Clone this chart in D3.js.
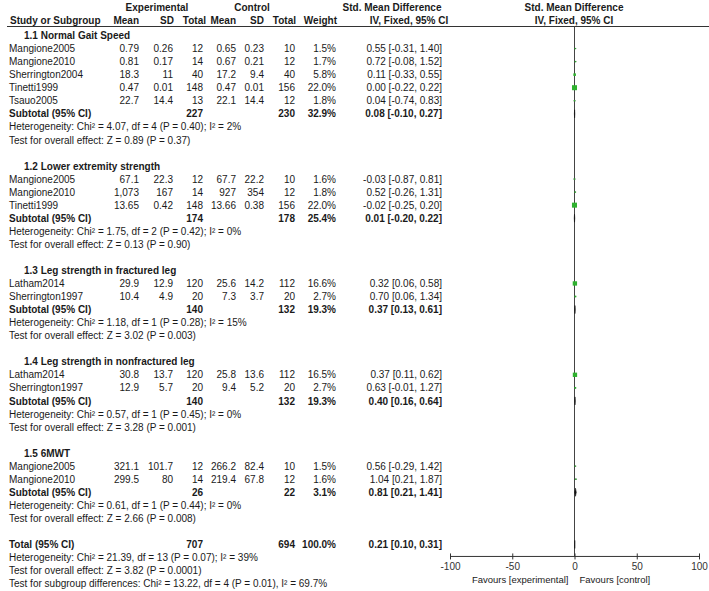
<!DOCTYPE html>
<html>
<head>
<meta charset="utf-8">
<script src="https://cdn.jsdelivr.net/npm/d3@7"></script>
<style>
    body { margin: 0; background: #fff; }
    svg { display: block; }
    text { font-family: "Liberation Sans", Arial, sans-serif; font-size: 10px; fill: #1a1a1a; }
    .bold { font-weight: bold; }
</style>
</head>
<body>
<svg></svg>
<script>
// data
var groupTitles = ["1.1 Normal Gait Speed", "1.2 Lower extremity strength", "1.3 Leg strength in fractured leg",
    "1.4 Leg strength in nonfractured leg", "1.5 6MWT"]
var studyGroup = [0, 0, 0, 0, 0, 1, 1, 1, 2, 2, 3, 3, 4, 4]
var studyNames = ["Mangione2005", "Mangione2010", "Sherrington2004", "Tinetti1999", "Tsauo2005",
    "Mangione2005", "Mangione2010", "Tinetti1999",
    "Latham2014", "Sherrington1997",
    "Latham2014", "Sherrington1997",
    "Mangione2005", "Mangione2010"]
var expMean = ["0.79", "0.81", "18.3", "0.47", "22.7", "67.1", "1,073", "13.65", "29.9", "10.4", "30.8", "12.9", "321.1", "299.5"]
var expSD = ["0.26", "0.17", "11", "0.01", "14.4", "22.3", "167", "0.42", "12.9", "4.9", "13.7", "5.7", "101.7", "80"]
var expTotal = [12, 14, 40, 148, 13, 12, 14, 148, 120, 20, 120, 20, 12, 14]
var ctlMean = ["0.65", "0.67", "17.2", "0.47", "22.1", "67.7", "927", "13.66", "25.6", "7.3", "25.8", "9.4", "266.2", "219.4"]
var ctlSD = ["0.23", "0.21", "9.4", "0.01", "14.4", "22.2", "354", "0.38", "14.2", "3.7", "13.6", "5.2", "82.4", "67.8"]
var ctlTotal = [10, 12, 40, 156, 12, 10, 12, 156, 112, 20, 112, 20, 10, 12]
var weights = [1.5, 1.7, 5.8, 22.0, 1.8, 1.6, 1.8, 22.0, 16.6, 2.7, 16.5, 2.7, 1.5, 1.6]
var smd = [0.55, 0.72, 0.11, 0.00, 0.04, -0.03, 0.52, -0.02, 0.32, 0.70, 0.37, 0.63, 0.56, 1.04]
var smdLow = [-0.31, -0.08, -0.33, -0.22, -0.74, -0.87, -0.26, -0.25, 0.06, 0.06, 0.11, -0.01, -0.29, 0.21]
var smdHigh = [1.40, 1.52, 0.55, 0.22, 0.83, 0.81, 1.31, 0.20, 0.58, 1.34, 0.62, 1.27, 1.42, 1.87]

var subExpTotal = [227, 174, 140, 140, 26]
var subCtlTotal = [230, 178, 132, 132, 22]
var subWeight = [32.9, 25.4, 19.3, 19.3, 3.1]
var subSmd = [0.08, 0.01, 0.37, 0.40, 0.81]
var subLow = [-0.10, -0.20, 0.13, 0.16, 0.21]
var subHigh = [0.27, 0.22, 0.61, 0.64, 1.41]
var heterogeneity = ["Heterogeneity: Chi\u00b2 = 4.07, df = 4 (P = 0.40); I\u00b2 = 2%",
    "Heterogeneity: Chi\u00b2 = 1.75, df = 2 (P = 0.42); I\u00b2 = 0%",
    "Heterogeneity: Chi\u00b2 = 1.18, df = 1 (P = 0.28); I\u00b2 = 15%",
    "Heterogeneity: Chi\u00b2 = 0.57, df = 1 (P = 0.45); I\u00b2 = 0%",
    "Heterogeneity: Chi\u00b2 = 0.61, df = 1 (P = 0.44); I\u00b2 = 0%"]
var overallTests = ["Test for overall effect: Z = 0.89 (P = 0.37)",
    "Test for overall effect: Z = 0.13 (P = 0.90)",
    "Test for overall effect: Z = 3.02 (P = 0.003)",
    "Test for overall effect: Z = 3.28 (P = 0.001)",
    "Test for overall effect: Z = 2.66 (P = 0.008)"]

var totalExp = 707
var totalCtl = 694
var totalWeight = 100.0
var totalSmd = [0.21, 0.10, 0.31]
var totalNotes = ["Heterogeneity: Chi\u00b2 = 21.39, df = 13 (P = 0.07); I\u00b2 = 39%",
    "Test for overall effect: Z = 3.82 (P = 0.0001)",
    "Test for subgroup differences: Chi\u00b2 = 13.22, df = 4 (P = 0.01), I\u00b2 = 69.7%"]
var axisTicks = [-100, -50, 0, 50, 100]

var screen = { width: 709, height: 591 }
var cols = { name: 9, group: 24, expMean: 139, expSD: 173, expTotal: 203, ctlMean: 236, ctlSD: 264, ctlTotal: 295, weight: 336, ci: 442 }
var rowTop = 35.5
var rowStep = 13.05

var svg = d3.select("svg")
    .attr("width", screen.width)
    .attr("height", screen.height)

var xScale = d3.scaleLinear()
    .domain([-100, 100])
    .range([450, 699])

var fmtCI = function (e, l, h) {
    return e.toFixed(2) + " [" + l.toFixed(2) + ", " + h.toFixed(2) + "]"
}

// build row list on a fixed grid, one blank row between blocks
var rows = []
var idx = 0
groupTitles.forEach(function (title, g) {
    rows.push({ kind: "group", idx: idx++, g: g })
    studyGroup.forEach(function (sg, i) {
        if (sg == g) { rows.push({ kind: "study", idx: idx++, i: i }) }
    })
    rows.push({ kind: "sub", idx: idx++, g: g })
    rows.push({ kind: "het", idx: idx++, g: g })
    rows.push({ kind: "test", idx: idx++, g: g })
    idx++
})
rows.push({ kind: "total", idx: idx++ })
totalNotes.forEach(function (t) {
    rows.push({ kind: "note", idx: idx++, text: t })
})
rows.forEach(function (r) {
    r.y = rowTop + r.idx * rowStep
})
var totalY = rows.filter(function (r) { return r.kind == "total" })[0].y

var addText = function (x, yy, txt, anchor, bold) {
    return svg.append("text")
        .attr("x", x)
        .attr("y", yy + 3.6)
        .attr("text-anchor", anchor || "start")
        .classed("bold", !!bold)
        .text(txt)
}

// headers
var h1 = 7, h2 = 20.5
addText(157, h1, "Experimental", "middle", true)
addText(252, h1, "Control", "middle", true)
addText(392, h1, "Std. Mean Difference", "middle", true)
addText(574, h1, "Std. Mean Difference", "middle", true)
addText(10, h2, "Study or Subgroup", "start", true)
addText(cols.expMean, h2, "Mean", "end", true)
addText(cols.expSD + 1, h2, "SD", "end", true)
addText(cols.expTotal + 3, h2, "Total", "end", true)
addText(cols.ctlMean, h2, "Mean", "end", true)
addText(cols.ctlSD, h2, "SD", "end", true)
addText(cols.ctlTotal + 1, h2, "Total", "end", true)
addText(cols.weight + 1, h2, "Weight", "end", true)
addText(409, h2, "IV, Fixed, 95% CI", "middle", true)
addText(574, h2, "IV, Fixed, 95% CI", "middle", true)

var ruleY = 26.5
svg.append("line")
    .attr("x1", 7).attr("x2", 709)
    .attr("y1", ruleY).attr("y2", ruleY)
    .attr("stroke", "#333").attr("stroke-width", 1.2)

var axisY = totalY + 12

// line of no effect
svg.append("line")
    .attr("x1", xScale(0)).attr("x2", xScale(0))
    .attr("y1", ruleY).attr("y2", axisY)
    .attr("stroke", "#444").attr("stroke-width", 1)

var plot = svg.append("g")

var drawDiamond = function (est, lo, hi, yy) {
    var pts = [[xScale(lo), yy], [xScale(est), yy - 4], [xScale(hi), yy], [xScale(est), yy + 4]]
    plot.append("path")
        .attr("d", d3.line()(pts) + "Z")
        .attr("fill", "#111")
        .attr("stroke", "#111")
        .attr("stroke-width", 0.6)
}

rows.forEach(function (r) {
    if (r.kind == "group") {
        addText(cols.group, r.y, groupTitles[r.g], "start", true)
    } else if (r.kind == "study") {
        var i = r.i
        addText(cols.name, r.y, studyNames[i])
        addText(cols.expMean, r.y, expMean[i], "end")
        addText(cols.expSD, r.y, expSD[i], "end")
        addText(cols.expTotal, r.y, expTotal[i], "end")
        addText(cols.ctlMean, r.y, ctlMean[i], "end")
        addText(cols.ctlSD, r.y, ctlSD[i], "end")
        addText(cols.ctlTotal, r.y, ctlTotal[i], "end")
        addText(cols.weight, r.y, weights[i].toFixed(1) + "%", "end")
        addText(cols.ci, r.y, fmtCI(smd[i], smdLow[i], smdHigh[i]), "end")

        plot.append("line")
            .attr("x1", xScale(smdLow[i])).attr("x2", xScale(smdHigh[i]))
            .attr("y1", r.y).attr("y2", r.y)
            .attr("stroke", "#333").attr("stroke-width", 0.8)
        var side = 1.07 * Math.sqrt(weights[i])
        plot.append("rect")
            .attr("x", xScale(smd[i]) - side / 2)
            .attr("y", r.y - side / 2)
            .attr("width", side)
            .attr("height", side)
            .attr("fill", "#2fb12f")
    } else if (r.kind == "sub") {
        var g = r.g
        addText(cols.name, r.y, "Subtotal (95% CI)", "start", true)
        addText(cols.expTotal, r.y, subExpTotal[g], "end", true)
        addText(cols.ctlTotal, r.y, subCtlTotal[g], "end", true)
        addText(cols.weight, r.y, subWeight[g].toFixed(1) + "%", "end", true)
        addText(cols.ci, r.y, fmtCI(subSmd[g], subLow[g], subHigh[g]), "end", true)
        drawDiamond(subSmd[g], subLow[g], subHigh[g], r.y)
    } else if (r.kind == "het") {
        addText(cols.name, r.y, heterogeneity[r.g])
    } else if (r.kind == "test") {
        addText(cols.name, r.y, overallTests[r.g])
    } else if (r.kind == "total") {
        addText(cols.name, r.y, "Total (95% CI)", "start", true)
        addText(cols.expTotal, r.y, totalExp, "end", true)
        addText(cols.ctlTotal, r.y, totalCtl, "end", true)
        addText(cols.weight, r.y, totalWeight.toFixed(1) + "%", "end", true)
        addText(cols.ci, r.y, fmtCI(totalSmd[0], totalSmd[1], totalSmd[2]), "end", true)
        drawDiamond(totalSmd[0], totalSmd[1], totalSmd[2], r.y)
    } else if (r.kind == "note") {
        addText(cols.name, r.y, r.text)
    }
})

// axis
var xAxis = d3.axisBottom(xScale)
    .tickValues(axisTicks)
    .tickSize(6)
    .tickFormat(function (d) { return String(d) })

var axisG = svg.append("g")
    .attr("transform", "translate(0," + axisY + ")")
    .call(xAxis)
axisG.select(".domain")
    .attr("d", "M" + xScale(-100) + ",0H" + xScale(100))
    .attr("stroke", "#333")
axisG.selectAll(".tick line")
    .attr("y1", -3).attr("y2", 3)
    .attr("stroke", "#333")
axisG.selectAll(".tick text")
    .attr("y", 6)
    .attr("font-family", null)
    .attr("font-size", null)
    .style("fill", "#333")

svg.append("text")
    .attr("x", xScale(0) - 6)
    .attr("y", axisY + 27)
    .attr("text-anchor", "end")
    .style("font-size", "9.5px")
    .text("Favours [experimental]")
svg.append("text")
    .attr("x", xScale(0) + 5)
    .attr("y", axisY + 27)
    .style("font-size", "9.5px")
    .text("Favours [control]")
</script>
</body>
</html>
